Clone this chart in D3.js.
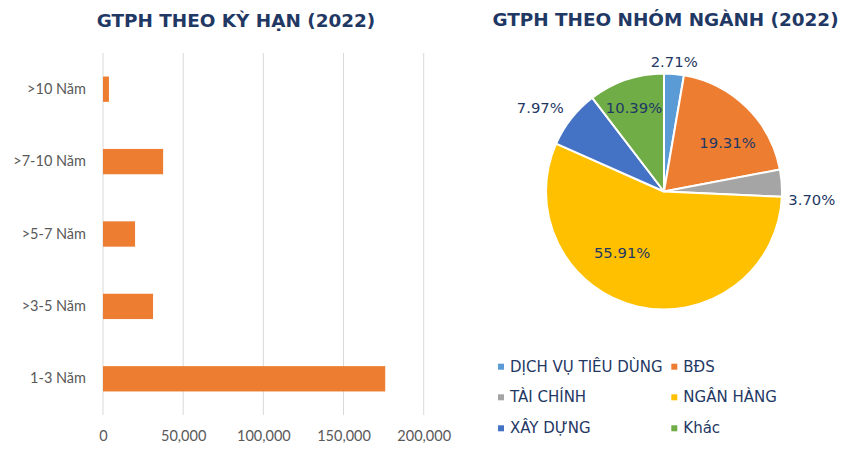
<!DOCTYPE html>
<html><head><meta charset="utf-8">
<script src="https://cdn.jsdelivr.net/npm/d3@7/dist/d3.min.js"></script>
<style>body{margin:0;background:#fff}svg{display:block}</style>
</head><body>
<svg id="c" width="861" height="463"></svg>
<script>
// ---- data ----
const termCategories = [">10 Năm", ">7-10 Năm", ">5-7 Năm", ">3-5 Năm", "1-3 Năm"];
const termValues = [3700, 37500, 20000, 31200, 176000];
const xTicks = [0, 50000, 100000, 150000, 200000];

const sectorNames = ["DỊCH VỤ TIÊU DÙNG", "BĐS", "TÀI CHÍNH", "NGÂN HÀNG", "XÂY DỰNG", "Khác"];
const sectorShares = [2.71, 19.31, 3.70, 55.91, 7.97, 10.39];
const sectorColors = ["#5B9BD5", "#ED7D31", "#A5A5A5", "#FFC000", "#4472C4", "#70AD47"];

const titleLeft = "GTPH THEO KỲ HẠN (2022)";
const titleRight = "GTPH THEO NHÓM NGÀNH (2022)";

// ---- layout ----
const navy = "#1F3864";
const svg = d3.select("#c");

// Titles
svg.append("text").attr("x", 236).attr("y", 27).attr("text-anchor", "middle")
  .attr("font-family", "DejaVu Sans").attr("font-weight", "bold").attr("font-size", 18.4)
  .attr("fill", navy).text(titleLeft);
svg.append("text").attr("x", 665.5).attr("y", 26).attr("text-anchor", "middle")
  .attr("font-family", "DejaVu Sans").attr("font-weight", "bold").attr("font-size", 18.4)
  .attr("fill", navy).text(titleRight);

// ---- bar chart ----
const x = d3.scaleLinear().domain([0, 200000]).range([103, 423.7]);
const y = d3.scaleBand().domain(termCategories).range([53, 415]).paddingInner(0.65).paddingOuter(0.325);

const g = svg.append("g");
g.selectAll("line.grid").data(xTicks).join("line").attr("class", "grid")
  .attr("x1", d => x(d)).attr("x2", d => x(d)).attr("y1", 53).attr("y2", 415)
  .attr("stroke", "#D9D9D9").attr("stroke-width", 1);

g.selectAll("rect").data(termValues).join("rect")
  .attr("x", x(0)).attr("y", (d, i) => y(termCategories[i]))
  .attr("width", d => x(d) - x(0)).attr("height", y.bandwidth())
  .attr("fill", "#ED7D31");

const xAxis = g.append("g").attr("transform", "translate(0,415)")
  .call(d3.axisBottom(x).tickValues(xTicks).tickFormat(d3.format(",")).tickSize(0).tickPadding(16));
xAxis.select(".domain").remove();
xAxis.selectAll("text").attr("font-family", "Lato").attr("font-size", 14.5).attr("fill", "#595959");

const yAxis = g.append("g").attr("transform", "translate(103,0)")
  .call(d3.axisLeft(y).tickSize(0).tickPadding(17));
yAxis.select(".domain").remove();
yAxis.selectAll("text").attr("font-family", "Lato").attr("font-size", 14.5).attr("fill", "#595959");

// ---- pie chart ----
const cx = 664, cy = 191.5, R = 118;
const pie = d3.pie().sort(null).value(d => d);
const arcs = pie(sectorShares);
const arc = d3.arc().innerRadius(0).outerRadius(R);
const pg = svg.append("g").attr("transform", `translate(${cx},${cy})`);
pg.selectAll("path").data(arcs).join("path")
  .attr("d", arc).attr("fill", (d, i) => sectorColors[i])
  .attr("stroke", "#fff").attr("stroke-width", 2).attr("stroke-linejoin", "round");

// label placement (Excel best-fit approximations): radius factor, angle shift (deg)
const labelRadius = [1.108, 0.68, 1.254, 0.63, 1.268, 0.754];
const labelShift = [-0.4, 7.8, 7, 21, -4, -1];
pg.selectAll("text.lbl").data(arcs).join("text").attr("class", "lbl")
  .attr("transform", (d, i) => {
    const a = (d.startAngle + d.endAngle) / 2 + labelShift[i] * Math.PI / 180;
    const r = labelRadius[i] * R;
    return `translate(${r * Math.sin(a)},${-r * Math.cos(a)})`;
  })
  .attr("text-anchor", "middle").attr("dominant-baseline", "central")
  .attr("font-family", "DejaVu Sans").attr("font-size", 14.8).attr("fill", navy)
  .text(d => d3.format(".2f")(d.data) + "%");

// legend
const legCols = [501, 674.3];
const legRows = [366.7, 397.3, 428.3];
const lg = svg.append("g");
const items = lg.selectAll("g").data(sectorNames).join("g")
  .attr("transform", (d, i) => `translate(${legCols[i % 2]},${legRows[Math.floor(i / 2)]})`);
items.append("rect").attr("x", -3).attr("y", -3).attr("width", 6).attr("height", 6)
  .attr("fill", (d, i) => sectorColors[i]);
items.append("text").attr("x", 9).attr("dominant-baseline", "central")
  .attr("font-family", "DejaVu Sans").attr("font-size", 15).attr("fill", navy)
  .text(d => d);
</script>
</body></html>
